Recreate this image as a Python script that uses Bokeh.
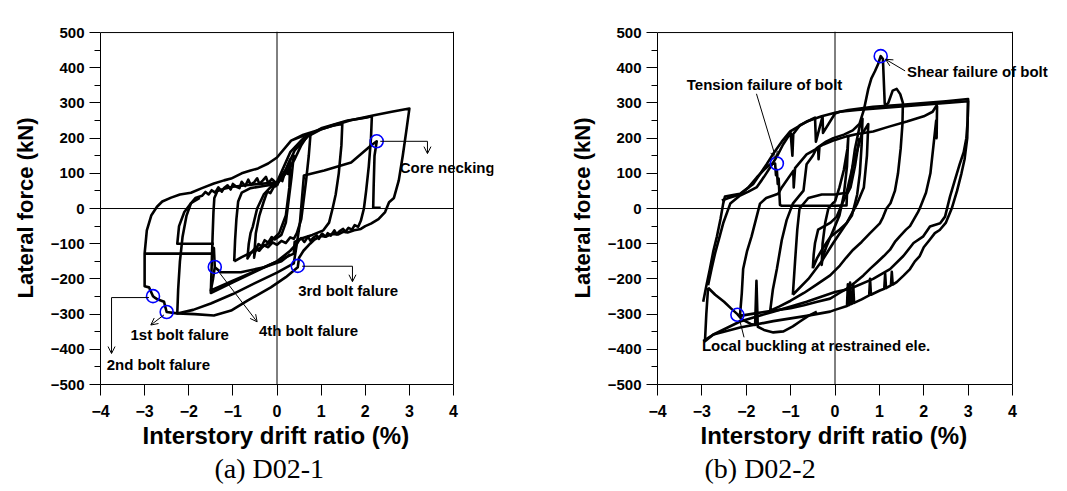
from bokeh.plotting import figure
from bokeh.layouts import row
from bokeh.models import Span, Label, Arrow, OpenHead, Title, FixedTicker
from bokeh.embed import file_html
from bokeh.resources import INLINE

# ---------------- data: (a) D02-1 ----------------
a1_x = [0.0, 0.06, 0.12, 0.18, 0.25, 0.3, 0.35, 0.38, 0.33, 0.26, 0.2, 0.1, -0.05, -0.12, -0.2, -0.28, -0.35, -0.42, -0.5, -0.52, -0.48, -0.4, -0.3, -0.22, -0.15, -0.07, 0.0]
a1_y = [65, 84, 78, 104, 98, 124, 120, 150, 90, 20, -40, -75, -88, -81, -97, -90, -108, -101, -125, -140, -70, -20, 20, 48, 44, 62, 65]

a2_x = [0.0, 0.2, 0.4, 0.55, 0.68, 0.76, 0.72, 0.66, 0.6, 0.55, 0.45, 0.38, 0.3, 0.2, 0.1, 0.0, -0.1, -0.2, -0.3, -0.4, -0.5, -0.6, -0.67, -0.64, -0.6, -0.55, -0.45, -0.3, -0.15, 0.0]
a2_y = [70, 100, 140, 180, 205, 213, 150, 80, 20, -30, -70, -86, -82, -98, -92, -103, -96, -110, -104, -120, -113, -128, -142, -100, -70, -52, 0, 40, 60, 70]

a3_x = [0.0, 0.2, 0.4, 0.7, 1.0, 1.25, 1.48, 1.46, 1.4, 1.33, 1.26, 1.18, 1.05, 0.8, 0.55, 0.4, 0.38, 0.0, -0.5, -1.0, -1.5, -1.48, -1.46, -1.44, -1.42, -1.35, -1.2, -1.0, -0.7, -0.4, 0.0]
a3_y = [72, 110, 165, 205, 225, 235, 240, 180, 100, 40, 0, -40, -62, -75, -85, -95, -128, -150, -180, -210, -240, -160, -80, -10, 30, 50, 56, 62, 66, 70, 74]

a4_x = [0.0, 0.3, 0.6, 1.0, 1.6, 2.0, 2.15, 2.13, 2.08, 2.02, 1.97, 1.9, 1.84, 1.76, 1.7, 1.62, 1.55, 1.5, 1.42, 1.35, 1.3, 1.22, 1.15, 1.1, 1.02, 0.95, 0.9, 0.82, 0.76, 0.7, 0.62, 0.55, 0.5, 0.45, 0.38, 0.0, -0.5, -1.0, -1.5, -1.9, -2.26, -2.24, -2.2, -2.14, -2.05, -1.95, -1.85, -1.7, -1.62, -1.55, -1.48, -1.4, -1.33, -1.25, -1.2, -1.12, -1.05, -1.0, -0.92, -0.85, -0.8, -0.72, -0.65, -0.6, -0.52, -0.45, -0.4, -0.32, -0.25, -0.2, -0.12, -0.05, 0.0]
a4_y = [75, 160, 200, 228, 250, 258, 262, 200, 120, 50, 0, -35, -52, -47, -60, -55, -66, -58, -64, -73, -62, -77, -70, -80, -71, -86, -76, -83, -92, -80, -95, -84, -90, -100, -156, -182, -212, -243, -270, -288, -298, -230, -150, -80, -20, 15, 30, 36, 47, 40, 52, 45, 60, 48, 58, 66, 54, 70, 62, 58, 76, 64, 82, 68, 74, 86, 70, 80, 90, 72, 84, 76, 72]

a5_x = [0.0, 0.32, 0.6, 0.91, 1.3, 1.67, 2.2, 2.6, 3.0, 2.93, 2.85, 2.76, 2.65, 2.54, 2.45, 2.3, 2.13, 2.0, 1.9, 1.75, 1.6, 1.5, 1.38, 1.25, 1.1, 1.0, 0.85, 0.75, 0.6, 0.5, 0.47, 0.2, -0.14, -0.66, -1.04, -1.43, -1.87, -2.26, -2.5, -2.53, -2.56, -2.71, -2.76, -2.81, -2.9, -3.0, -3.0, -2.95, -2.85, -2.72, -2.6, -2.4, -2.2, -1.95, -1.7, -1.43, -1.2, -1.04, -0.8, -0.6, -0.43, -0.2, 0.0, 0.32, 0.91, 1.67, 2.15]
a5_y = [145, 193, 210, 222, 238, 251, 265, 275, 284, 220, 150, 80, 30, 18, -10, -30, -43, -50, -58, -62, -68, -66, -74, -72, -80, -78, -88, -100, -120, -140, -167, -195, -224, -261, -290, -304, -300, -298, -294, -280, -265, -258, -254, -249, -224, -221, -128, -62, -20, 5, 20, 31, 40, 45, 58, 71, 80, 85, 100, 108, 114, 128, 145, 193, 222, 251, 262]

a6_x = [-3.0, -2.6, -2.26, -1.9, -1.46, -1.43, -1.41, -1.45, -1.5, -1.0, -0.5, 0.0, 0.3, 0.45, 0.52, 0.61, 1.07, 1.68, 2.13, 2.26, 2.21, 2.19, 2.18, 2.35]
a6_y = [-128, -128, -128, -128, -128, -112, -167, -200, -233, -205, -178, -150, -120, -100, -40, 94, 108, 131, 179, 191, 150, 60, 2, 2]

a7_x = [-1.41, -1.27, -0.82, -0.29, 0.1, 0.3]
a7_y = [-167, -181, -181, -167, -150, -130]

a8_x = [-1.43, -1.8, -2.26, -2.22, -2.1, -1.95, -1.75]
a8_y = [-100, -100, -100, -50, -10, 15, 30]

a9_x = [-0.97, -0.95, -0.92, -0.88, -0.8, -0.6, -0.3, 0.0, 0.2, 0.3, 0.28, 0.2, 0.05, -0.2, -0.5, -0.8, -0.97]
a9_y = [-150, -90, -30, 20, 45, 58, 64, 70, 110, 140, 60, -20, -70, -100, -120, -138, -150]

a_paths = [(a1_x, a1_y), (a2_x, a2_y), (a3_x, a3_y), (a4_x, a4_y), (a5_x, a5_y), (a6_x, a6_y), (a7_x, a7_y), (a8_x, a8_y), (a9_x, a9_y)]

a_mark_x = [2.26, 0.47, -1.41, -2.81, -2.5]
a_mark_y = [191, -163, -166, -249, -294]

a_notes = ["Core necking", "3rd bolt falure", "4th bolt falure", "1st bolt falure", "2nd bolt falure"]
a_note_x = [2.78, 0.48, -0.41, -3.32, -3.86]
a_note_y = [116, -234, -346, -358, -443]

# ---------------- data: (b) D02-2 ----------------
b1_x = [0.0, 0.1, 0.2, 0.28, 0.3, 0.27, 0.2, 0.1, 0.0, -0.1, -0.2, -0.28, -0.3, -0.28, -0.22, -0.15, -0.05, 0.0]
b1_y = [20, 60, 110, 170, 205, 120, 40, -20, -50, -80, -110, -140, -160, -100, -40, 0, 15, 20]

b2_x = [-0.5, -0.48, -0.45, -0.38, -0.25, -0.1, 0.04, 0.15, 0.26, 0.35, 0.45, 0.55, 0.62, 0.6, 0.56, 0.5, 0.45, 0.38, 0.26, 0.1, -0.1, -0.26, -0.4, -0.5]
b2_y = [-170, -130, -98, -60, -51, -40, -23, 10, 40, 80, 170, 230, 255, 180, 100, 40, 14, -20, -42, -60, -80, -110, -140, -170]

b3_x = [-1.46, -1.4, -1.31, -1.2, -1.09, -0.95, -0.71, -0.64, -0.5, -0.41, -0.2, -0.04, 0.2, 0.4, 0.55, 0.65, 0.75, 0.82, 0.9, 0.97, 1.03, 1.08, 1.12, 1.13, 1.2, 1.3, 1.39, 1.47, 1.53, 1.52, 1.48, 1.42, 1.35, 1.25, 1.16, 1.08, 1.01, 0.79, 0.6, 0.41, 0.25, 0.11, -0.11, -0.4, -0.7, -1.0, -1.25, -1.46]
b3_y = [-290, -230, -172, -90, -33, 14, 51, 126, 150, 172, 190, 200, 210, 222, 240, 280, 340, 370, 390, 410, 433, 425, 300, 293, 300, 335, 340, 325, 300, 240, 170, 100, 50, 15, 0, -25, -42, -70, -95, -117, -140, -162, -190, -215, -240, -262, -278, -290]

b4_x = [-2.14, -2.1, -2.07, -1.98, -1.88, -1.78, -1.69, -1.55, -1.39, -1.28, -1.2, -0.94, -0.93, -0.9, -0.64, -0.38, -0.37, -0.35, -0.26, 0.0, 0.26, 0.5, 0.86, 1.2, 1.62, 2.0, 2.2, 2.29, 2.3, 2.29, 2.28, 2.22, 2.15, 2.05, 1.91, 1.87, 1.78, 1.69, 1.6, 1.46, 1.35, 1.24, 1.1, 0.94, 0.8, 0.64, 0.45, 0.26, 0.1, -0.11, -0.4, -0.7, -1.0, -1.39, -1.8, -2.14]
b4_y = [-302, -240, -172, -120, -79, -30, 14, 30, 37, 42, 60, 107, 60, 115, 154, 172, 140, 176, 182, 195, 205, 212, 219, 232, 247, 262, 275, 293, 290, 200, 250, 180, 100, 45, 0, -10, -30, -50, -60, -79, -95, -117, -135, -154, -170, -190, -210, -228, -240, -256, -265, -275, -283, -290, -298, -305]

b5_x = [-2.86, -2.78, -2.7, -2.6, -2.52, -2.36, -2.14, -1.95, -1.76, -1.6, -1.46, -1.3, -1.17, -1.0, -0.96, -0.94, -0.79, -0.5, -0.45, -0.43, -0.28, -0.27, 0.0, 0.11, 0.5, 1.0, 1.5, 2.0, 2.5, 3.0, 2.98, 2.92, 2.85, 2.75, 2.63, 2.5, 2.36, 2.25, 2.14, 2.0, 1.91, 1.8, 1.69, 1.55, 1.39, 1.3, 1.28, 1.26, 1.15, 1.13, 1.11, 1.01, 0.81, 0.79, 0.77, 0.6, 0.43, 0.41, 0.39, 0.35, 0.34, 0.32, 0.3, 0.29, 0.27, 0.0, -0.11, -0.64, -1.39, -2.14, -2.74, -2.93, -2.9, -2.86]
b5_y = [-218, -170, -126, -80, -42, 14, 37, 48, 61, 90, 117, 150, 182, 215, 150, 212, 237, 255, 258, 190, 262, 215, 270, 275, 280, 285, 290, 295, 300, 305, 200, 140, 100, 50, 0, -40, -61, -70, -88, -110, -135, -150, -172, -190, -209, -216, -180, -218, -226, -185, -228, -233, -245, -200, -247, -258, -268, -215, -270, -272, -210, -274, -275, -215, -277, -288, -293, -305, -320, -338, -358, -377, -300, -225]

b6_x = [-2.86, -2.7, -2.5, -2.35, -2.2, -2.1, -1.9, -1.8, -1.77, -1.74, -1.6, -1.39, -1.16, -0.95, -0.79, -0.6, -0.41]
b6_y = [-225, -245, -265, -283, -300, -315, -328, -331, -205, -336, -345, -352, -349, -335, -321, -305, -293]

b7_x = [-2.97, -2.9, -2.82, -2.74, -2.66, -2.58, -2.52, -2.48, -2.3, -2.14, -1.84, -1.54, -1.4, -1.2, -1.01, -0.8, -0.64, -0.3, 0.0, 0.3, 0.86, 1.5, 2.0, 2.5, 3.0, 2.99, 2.96, 2.9, 2.81, 2.7, 2.59, 2.48, 2.37, 2.14, 1.99, 1.77, 1.54, 1.24, 0.86, 0.34, 0.0, -0.64, -1.39, -2.14, -2.74, -2.97]
b7_y = [-265, -220, -172, -120, -79, -30, 14, 34, 38, 42, 70, 126, 154, 190, 219, 235, 247, 262, 272, 280, 289, 295, 300, 305, 311, 250, 200, 160, 126, 80, 33, -23, -42, -51, -79, -98, -135, -172, -200, -228, -237, -265, -293, -321, -358, -377]

b8_x = [-2.55, -2.4, -2.14, -1.95, -1.76, -1.6, -1.46, -1.35, -1.33, -1.31, -1.29, -1.27, -1.24, -1.2, -0.6, 0.0, 0.26, 0.27, 0.35, 0.45, 0.55]
b8_y = [23, 30, 40, 60, 89, 110, 126, 128, 95, 110, 70, 85, 10, 8, 8, 8, 9, 40, 60, 120, 200]

b9_x = [-0.95, -0.9, -0.85, -0.8, -0.6, -0.3, 0.0, 0.26, 0.4, 0.6, 0.75, 0.72, 0.65, 0.5, 0.26, -0.04, -0.3, -0.6, -0.95]
b9_y = [-245, -150, -60, 0, 30, 40, 40, 45, 120, 210, 240, 150, 60, 14, -42, -98, -150, -200, -245]

b_paths = [(b1_x, b1_y), (b2_x, b2_y), (b3_x, b3_y), (b4_x, b4_y), (b5_x, b5_y), (b6_x, b6_y), (b7_x, b7_y), (b8_x, b8_y), (b9_x, b9_y)]

b_mark_x = [1.03, -1.31, -2.2]
b_mark_y = [433, 128, -302]

b_notes = ["Shear failure of bolt", "Tension failure of bolt", "Local buckling at restrained ele."]
b_note_x = [1.62, -3.34, -3.0]
b_note_y = [389, 352, -389]

x_ticks = [-4, -3, -2, -1, 0, 1, 2, 3, 4]
y_ticks = [-500, -400, -300, -200, -100, 0, 100, 200, 300, 400, 500]
x_title = "Interstory drift ratio (%)"
y_title = "Lateral force (kN)"
captions = ["(a) D02-1", "(b) D02-2"]

SANS = "Liberation Sans"


def make_fig(width, height, bl, br, bt, bb, x_end, paths, mx, my, notes, nx, ny, xlab_off, caption, cap_offset):
    p = figure(width=width, height=height, x_range=(-4, x_end), y_range=(-500, 503),
               output_backend="svg", toolbar_location=None,
               min_border_left=bl, min_border_right=br, min_border_top=bt, min_border_bottom=bb)
    p.background_fill_color = "white"
    p.border_fill_color = "white"
    p.outline_line_color = None
    p.grid.visible = False
    p.xaxis.ticker = FixedTicker(ticks=x_ticks)
    p.xaxis.bounds = (-4, 4)
    p.yaxis.bounds = (-500, 500)
    p.yaxis.ticker = FixedTicker(ticks=y_ticks, minor_ticks=[v + 50 for v in y_ticks[:-1]])
    for ax in (p.xaxis[0], p.yaxis[0]):
        ax.major_tick_out = 11
        ax.major_tick_in = 0
        ax.minor_tick_out = 6
        ax.minor_tick_in = 0
        ax.axis_line_color = "black"
        ax.major_tick_line_color = "black"
        ax.minor_tick_line_color = "black"
        ax.major_label_text_font = SANS
        ax.major_label_text_font_style = "bold"
        ax.major_label_text_color = "black"
        ax.axis_label_text_font = SANS
        ax.axis_label_text_font_style = "bold"
        ax.axis_label_text_color = "black"
    p.yaxis.major_label_text_font_size = "15px"
    p.yaxis.major_label_standoff = 5
    p.xaxis.major_label_text_font_size = "16px"
    p.xaxis.major_label_standoff = 9
    p.xaxis.minor_tick_line_color = None
    p.yaxis.axis_label = y_title
    p.yaxis.axis_label_text_font_size = "22px"
    p.yaxis.axis_label_standoff = 10

    # frame edges (top & right)
    p.line([-4, 4], [500, 500], line_color="black", line_width=1)
    p.add_layout(Span(location=4, dimension="height", line_color="black", line_width=1))
    # zero lines
    p.line([-4, 4], [0, 0], line_color="black", line_width=1)
    p.add_layout(Span(location=0, dimension="height", line_color="black", line_width=1))

    for xs, ys in paths:
        p.line(xs, ys, line_color="black", line_width=2.6, line_join="round")

    p.scatter(mx, my, marker="circle", size=13, fill_color=None, line_color="#0000ff", line_width=1.6)

    for t, x, y in zip(notes, nx, ny):
        p.add_layout(Label(x=x, y=y, text=t, text_font=SANS, text_font_style="bold",
                           text_font_size="15px", text_baseline="middle", text_align="left",
                           text_color="black"))

    p.add_layout(Title(text=x_title, align="left", offset=xlab_off, text_font=SANS,
                       text_font_style="bold", text_font_size="24px", text_color="black",
                       standoff=0), "below")
    p.add_layout(Title(text=caption, align="left", offset=cap_offset, text_font="Liberation Serif",
                       text_font_style="normal", text_font_size="28px", text_color="black",
                       standoff=4), "below")
    return p


def arrow(p, x0, y0, x1, y1):
    p.add_layout(Arrow(end=OpenHead(size=7, line_width=1, line_color="black"),
                       x_start=x0, y_start=y0, x_end=x1, y_end=y1,
                       line_color="black", line_width=1))


# left: frame x 100..493 (44.125 px per %), y 31..384
p1 = make_fig(528, 488, 100, 35, 31, 104, 4 + 40 / 44.125, a_paths, a_mark_x, a_mark_y,
              a_notes, a_note_x, a_note_y, 42, captions[0], 114)
p1.line([2.34, 3.41], [191, 191], line_color="black", line_width=1)
arrow(p1, 3.41, 191, 3.41, 156)
p1.line([0.57, 1.71], [-164, -164], line_color="black", line_width=1)
arrow(p1, 1.71, -164, 1.71, -208)
arrow(p1, -1.35, -175, -0.45, -322)
arrow(p1, -2.56, -302, -2.86, -331)
p1.line([-2.9, -3.75], [-253, -253], line_color="black", line_width=1)
arrow(p1, -3.75, -253, -3.75, -412)

# right: frame x 657..1048 (44.375 px per %), y 25..384
p2 = make_fig(534, 488, 129, 14, 25, 104, 4 + 36 / 44.375, b_paths, b_mark_x, b_mark_y,
              b_notes, b_note_x, b_note_y, 43, captions[1], 47)
arrow(p2, 1.58, 391, 1.14, 424)
arrow(p2, -1.77, 326, -1.33, 142)
p2.line([-2.15, -2.05], [-316, -366], line_color="black", line_width=1)

layout = row(p1, p2)
open("out.html", "w").write(file_html(layout, INLINE))
